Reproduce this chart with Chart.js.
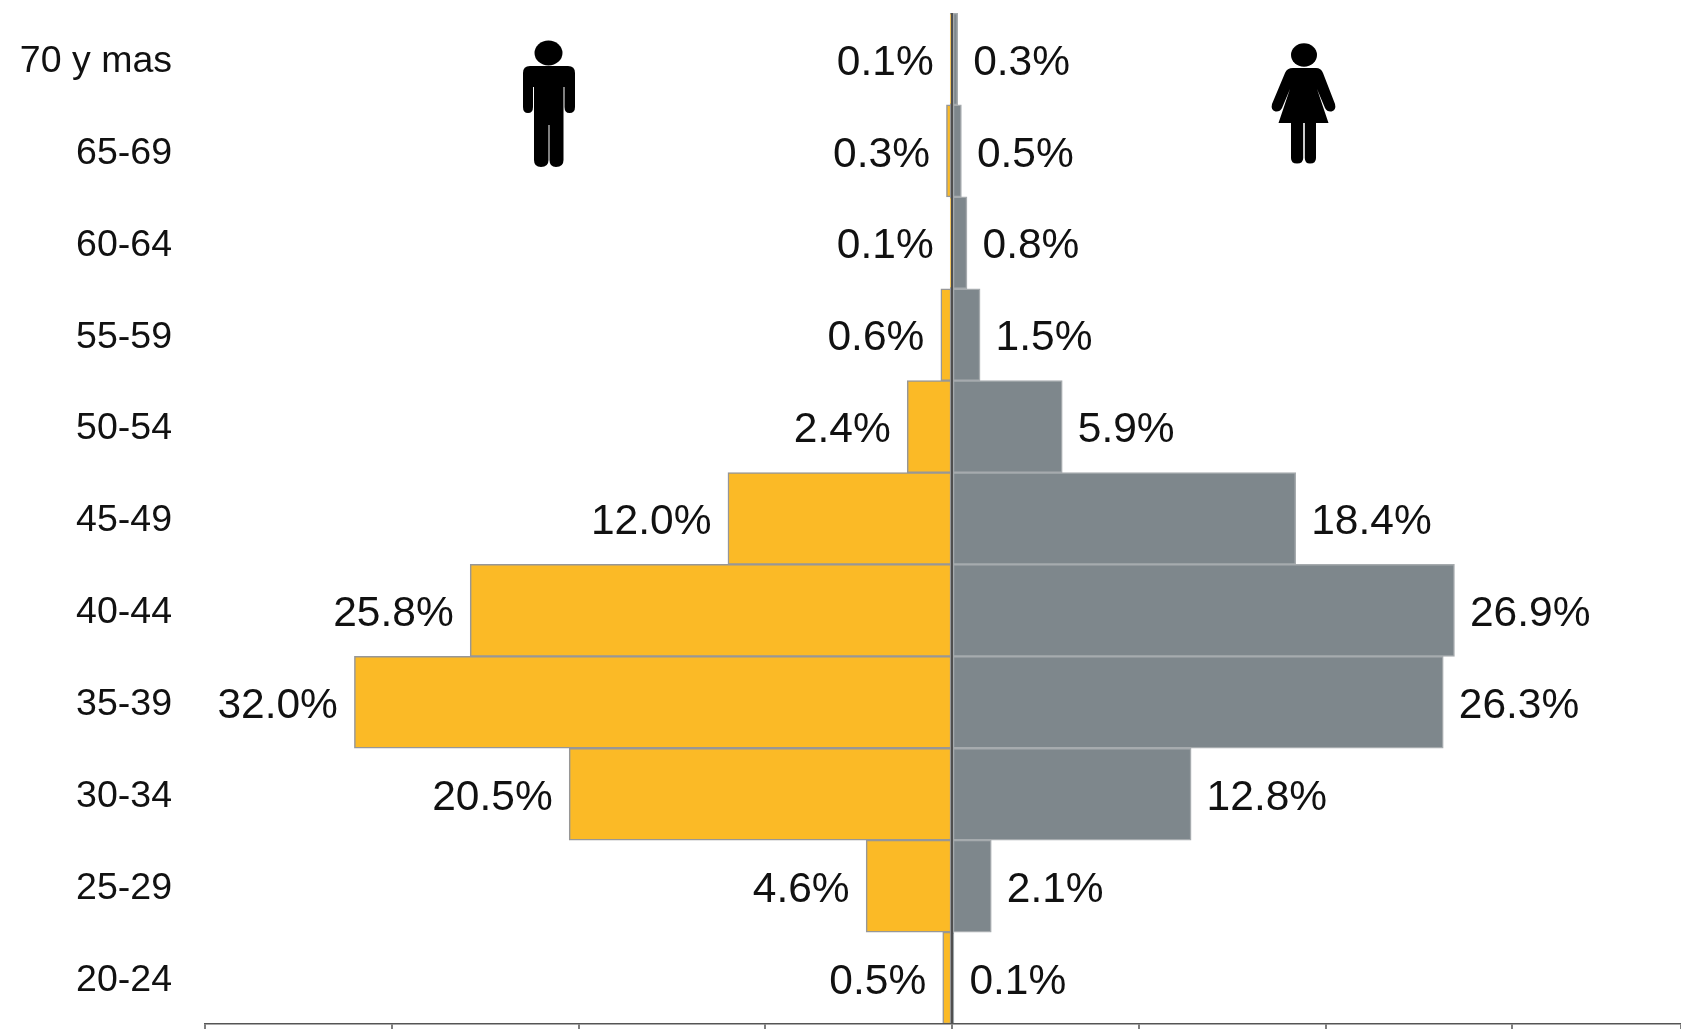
<!DOCTYPE html>
<html>
<head>
<meta charset="utf-8">
<title>Pirámide de edad</title>
<script src="https://cdn.jsdelivr.net/npm/chart.js@4"></script>
<style>
html,body{margin:0;padding:0;background:#fff;overflow:hidden}
#wrap{position:relative;width:1681px;height:1029px}
canvas{display:block}
svg{position:absolute;left:0;top:0;pointer-events:none}
</style>
</head>
<body>
<div id="wrap">
<canvas id="c" width="1681" height="1029"></canvas>
<svg width="1681" height="1029" viewBox="0 0 1681 1029" aria-hidden="true">
  <g fill="#000">
    <ellipse cx="548.5" cy="53" rx="14" ry="12.5"/>
    <path d="M530 66H568Q575 66 575 73V107Q575 113 569.500 113Q564.500 113 564.500 107V87H563.500V160Q563.500 167 556 167Q549.500 167 549.500 160V125H548.500V160Q548.500 167 541 167Q534 167 534 160V87H533V107Q533 113 528 113Q523 113 523 107V73Q523 66 530 66Z"/>
    <ellipse cx="1304" cy="55" rx="13" ry="11.7"/>
    <path d="M1293 68H1316Q1321 68 1323 73L1335 104Q1336.500 110 1331.500 111.500Q1327 112 1325 108L1317 89L1328.500 123H1316V158Q1316 163.500 1310 163.500Q1304.800 163.500 1304.800 158V123H1303.200V158Q1303.200 163.500 1297 163.500Q1291 163.500 1291 158V123H1278.500L1290 89L1282 108Q1280 112 1275.500 111.500Q1270.500 110 1272 104L1285 73Q1287 68 1293 68Z"/>
  </g>
</svg>
</div>
<script>
const categories = ['70 y mas','65-69','60-64','55-59','50-54','45-49','40-44','35-39','30-34','25-29','20-24'];
const maleValues = [0.1,0.3,0.1,0.6,2.4,12.0,25.8,32.0,20.5,4.6,0.5];
const femaleValues = [0.3,0.5,0.8,1.5,5.9,18.4,26.9,26.3,12.8,2.1,0.1];

const dataLabels = {
  id:'dataLabels',
  beforeDraw(chart){
    const s = chart.scales.y;
    s.getLabelItems(chart.chartArea).forEach(it=>{
      if(!it._moved){ it.options.translation[1] += 2.5; it._moved = true; }
    });
  },
  afterDatasetsDraw(chart){
    const ctx = chart.ctx;
    ctx.save();
    ctx.font = '42.5px "Liberation Sans", Arial, sans-serif';
    ctx.fillStyle = '#111';
    ctx.textBaseline = 'middle';
    chart.data.datasets.forEach((ds,di)=>{
      const meta = chart.getDatasetMeta(di);
      meta.data.forEach((el,i)=>{
        const v = Math.abs(ds.data[i]);
        const txt = v.toFixed(1)+'%';
        const male = ds.data[i] < 0;
        ctx.textAlign = male ? 'right' : 'left';
        ctx.fillText(txt, el.x + (male ? -16.5 : 15.5), el.y + 4);
      });
    });
    ctx.restore();
  }
};

new Chart(document.getElementById('c'),{
  type:'bar',
  data:{
    labels:categories,
    datasets:[
      {label:'Hombres',data:maleValues.map(v=>-v),backgroundColor:'#FBBA26',borderColor:'#979797',borderWidth:1.5,borderSkipped:false,barPercentage:1,categoryPercentage:1},
      {label:'Mujeres',data:femaleValues,backgroundColor:'#7E878C',borderColor:'#A6ABAE',borderWidth:1.5,borderSkipped:false,barPercentage:1,categoryPercentage:1}
    ]
  },
  plugins:[dataLabels],
  options:{
    indexAxis:'y',
    responsive:false,
    animation:false,
    layout:{padding:{top:13,left:0,right:0,bottom:0}},
    plugins:{legend:{display:false},tooltip:{enabled:false},title:{display:false}},
    scales:{
      x:{
        stacked:true,
        min:-40,
        max:39.03,
        afterFit(s){s.height=5;s.paddingLeft=0;s.paddingRight=0;},
        ticks:{stepSize:10,display:false},
        border:{display:true,color:'#555',width:1.5,z:2},
        grid:{
          z:1,
          drawOnChartArea:true,
          drawTicks:true,
          tickLength:5,
          tickColor:'#555',
          tickWidth:1.5,
          lineWidth:2,
          color:c=>c.tick && c.tick.value===0 ? '#4f4f4f' : 'transparent'
        }
      },
      y:{
        stacked:true,
        afterFit(s){s.width=205;s.paddingTop=0;s.paddingBottom=0;},
        border:{display:false},
        grid:{display:false,drawTicks:false},
        ticks:{padding:33,color:'#111',font:{family:'"Liberation Sans", Arial, sans-serif',size:37.5}}
      }
    }
  }
});
</script>
</body>
</html>
